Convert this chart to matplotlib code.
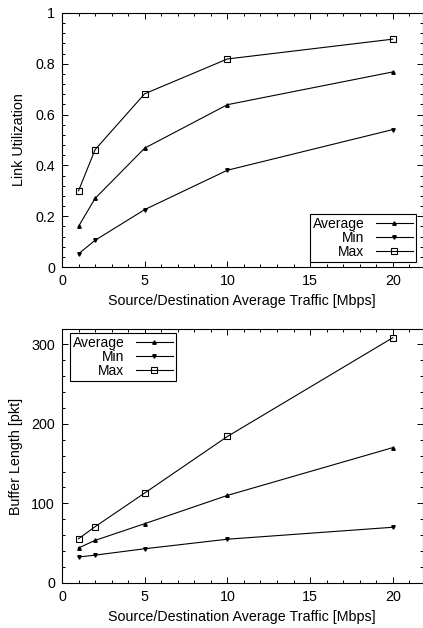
import matplotlib.pyplot as plt
from matplotlib.ticker import MultipleLocator, FormatStrFormatter

# traffic load per source/destination pair [Mbps]
traffic = [1, 2, 5, 10, 20]

# link utilization
util_avg = [0.16, 0.27, 0.468, 0.639, 0.768]
util_min = [0.052, 0.105, 0.226, 0.381, 0.541]
util_max = [0.30, 0.462, 0.682, 0.819, 0.897]

# buffer occupancy [pkt]
buf_avg = [44, 53.5, 74.5, 110, 170]
buf_min = [32.6, 35, 43, 55, 70]
buf_max = [55.6, 70.7, 113, 184, 308]

plt.rcParams['font.family'] = ['Liberation Sans', 'DejaVu Sans']
plt.rcParams['font.size'] = 10.3

fig = plt.figure(figsize=(4.23, 6.28), dpi=100)
W, H = 423.0, 628.0
left, right = 62 / W, 422.5 / W
ax1 = fig.add_axes([left, 1 - 267 / H, right - left, 254 / H])
ax2 = fig.add_axes([left, 1 - 583 / H, right - left, 254 / H])

series_style = [
    ('Average', dict(marker='^', markersize=2.5, color='black')),
    ('Min', dict(marker='v', markersize=2.5, color='black')),
    ('Max', dict(marker='s', markersize=4, color='black', markerfacecolor='none', markeredgewidth=0.8)),
]


def draw(ax, avg, mn, mx):
    for (name, st), ys in zip(series_style, [avg, mn, mx]):
        ax.plot(traffic, ys, linewidth=0.8, label=name, **st)
    ax.set_xlim(0, 21.8)
    ax.xaxis.set_major_locator(MultipleLocator(5))
    ax.xaxis.set_minor_locator(MultipleLocator(1))
    ax.yaxis.set_major_formatter(FormatStrFormatter('%g'))
    ax.tick_params(which='both', direction='in', top=True, right=True, width=0.7)
    ax.tick_params(which='major', length=4, pad=5)
    ax.tick_params(which='minor', length=2)
    for sp in ax.spines.values():
        sp.set_linewidth(0.8)
    ax.set_xlabel('Source/Destination Average Traffic [Mbps]', labelpad=4)


def legend(ax, **kw):
    leg = ax.legend(markerfirst=False, frameon=True, fancybox=False,
                    edgecolor='black', framealpha=1, fontsize=10,
                    handlelength=2.7, handletextpad=0.8, borderpad=0.2,
                    labelspacing=0.0, borderaxespad=0, **kw)
    leg.get_frame().set_linewidth(0.8)


draw(ax1, util_avg, util_min, util_max)
ax1.set_ylim(0, 1)
ax1.yaxis.set_major_locator(MultipleLocator(0.2))
ax1.yaxis.set_minor_locator(MultipleLocator(0.04))
ax1.set_ylabel('Link Utilization', labelpad=7)
legend(ax1, loc='lower right', bbox_to_anchor=(0.982, 0.02))

draw(ax2, buf_avg, buf_min, buf_max)
ax2.set_ylim(0, 319)
ax2.yaxis.set_major_locator(MultipleLocator(100))
ax2.yaxis.set_minor_locator(MultipleLocator(20))
ax2.set_ylabel('Buffer Length [pkt]', labelpad=6)
legend(ax2, loc='upper left', bbox_to_anchor=(0.022, 0.984))

fig.savefig('out.png', dpi=100)
